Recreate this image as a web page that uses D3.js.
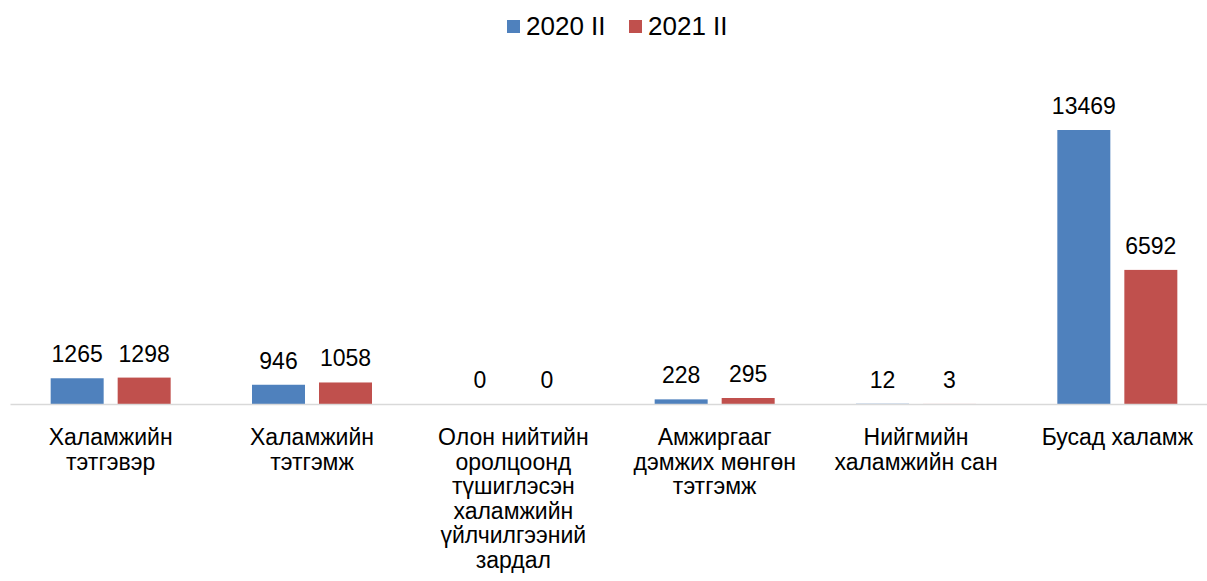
<!DOCTYPE html>
<html>
<head>
<meta charset="utf-8">
<script src="https://cdn.jsdelivr.net/npm/d3@7"></script>
<style>
  body { margin: 0; background: #fff; }
  svg text { font-family: "Liberation Sans", Arial, sans-serif; fill: #000; }
  .value-label { font-size: 23px; }
  .legend-label { font-size: 26px; }
  .axis text { font-size: 23px; }
</style>
</head>
<body>
<svg id="chart" width="1207" height="581"></svg>
<script>
const CATEGORIES = [
  ["Халамжийн", "тэтгэвэр"],
  ["Халамжийн", "тэтгэмж"],
  ["Олон нийтийн", "оролцоонд", "түшиглэсэн", "халамжийн", "үйлчилгээний", "зардал"],
  ["Амжиргааг", "дэмжих мөнгөн", "тэтгэмж"],
  ["Нийгмийн", "халамжийн сан"],
  ["Бусад халамж"]
];
const SERIES_NAMES = ["2020 II", "2021 II"];
const VALUES_2020 = [1265, 946, 0, 228, 12, 13469];
const VALUES_2021 = [1298, 1058, 0, 295, 3, 6592];
const COLORS = ["#4f81bd", "#c0504d"];

const SVG = d3.select("#chart");
const WIDTH = 1207;
const MARGIN = { left: 10, right: -11, baseline: 404, top: 130 };

const SERIES = [VALUES_2020, VALUES_2021];

const SCALE_X = d3.scaleBand()
  .domain(d3.range(CATEGORIES.length))
  .range([MARGIN.left, WIDTH - MARGIN.right]);

const SCALE_SERIES = d3.scaleBand()
  .domain(d3.range(SERIES.length))
  .range([SCALE_X.bandwidth() / 2 - 60, SCALE_X.bandwidth() / 2 + 60])
  .paddingInner(0.209);

const SCALE_Y = d3.scaleLinear()
  .domain([0, 13469])
  .range([MARGIN.baseline, MARGIN.top]);

// bars
SERIES.forEach((vals, s) => {
  const g = SVG.append("g");
  g.selectAll("rect")
    .data(vals)
    .enter()
    .append("rect")
    .attr("x", (d, i) => SCALE_X(i) + SCALE_SERIES(s))
    .attr("y", d => SCALE_Y(d))
    .attr("width", SCALE_SERIES.bandwidth())
    .attr("height", d => SCALE_Y(0) - SCALE_Y(d))
    .attr("fill", COLORS[s]);

  g.selectAll("text")
    .data(vals)
    .enter()
    .append("text")
    .attr("class", "value-label")
    .attr("x", (d, i) => SCALE_X(i) + SCALE_SERIES(s) + SCALE_SERIES.bandwidth() / 2)
    .attr("y", d => SCALE_Y(d) - 16)
    .attr("text-anchor", "middle")
    .text(d => d);
});

// x axis
const AXIS = SVG.append("g")
  .attr("class", "axis")
  .attr("transform", `translate(0,${MARGIN.baseline})`)
  .call(d3.axisBottom(SCALE_X).tickSize(0).tickFormat(""));

AXIS.attr("font-family", null).attr("font-size", null);
AXIS.select(".domain").attr("stroke", "#d9d9d9").attr("stroke-width", 1.5);

AXIS.selectAll(".tick text").remove();
AXIS.selectAll(".tick")
  .append("text")
  .attr("text-anchor", "middle")
  .each(function (d) {
    const t = d3.select(this);
    CATEGORIES[d].forEach((line, k) => {
      t.append("tspan")
        .attr("x", 0)
        .attr("y", 41 + k * 24.6)
        .text(line);
    });
  });

// legend
const LEGEND_POS = [507, 629];
const LEGEND = SVG.append("g");
SERIES_NAMES.forEach((name, s) => {
  LEGEND.append("rect")
    .attr("x", LEGEND_POS[s])
    .attr("y", 20)
    .attr("width", 13)
    .attr("height", 13)
    .attr("fill", COLORS[s]);
  LEGEND.append("text")
    .attr("class", "legend-label")
    .attr("x", LEGEND_POS[s] + 19)
    .attr("y", 35)
    .text(name);
});
</script>
</body>
</html>
